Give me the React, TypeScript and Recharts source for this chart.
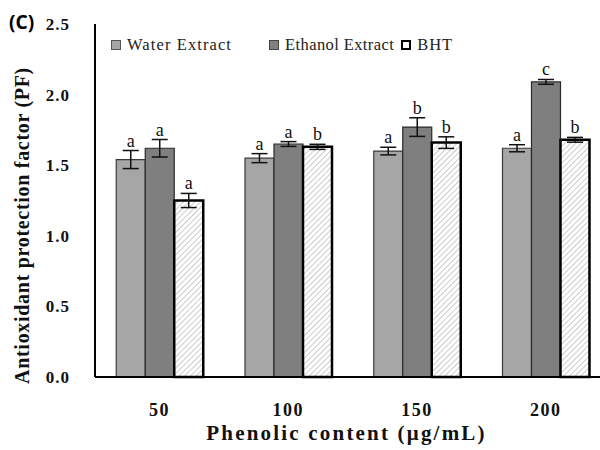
import {
  BarChart,
  Bar,
  XAxis,
  YAxis,
  ErrorBar,
  LabelList,
  Legend,
} from "recharts";

const categories = ["50", "100", "150", "200"];
const water = [1.54, 1.55, 1.6, 1.62];
const waterErr = [0.064, 0.032, 0.027, 0.025];
const ethanol = [1.62, 1.65, 1.77, 2.09];
const ethanolErr = [0.062, 0.017, 0.066, 0.017];
const bht = [1.25, 1.63, 1.66, 1.68];
const bhtErr = [0.05, 0.018, 0.041, 0.017];
const waterLetters = ["a", "a", "a", "a"];
const ethanolLetters = ["a", "a", "b", "c"];
const bhtLetters = ["a", "b", "b", "b"];
const yTicks = [0, 0.5, 1, 1.5, 2, 2.5];
const innerYTicks = [0.5, 1, 1.5, 2];
const groupBounds = [1.5, 2.5, 3.5];

const data = categories.map((c, i) => ({
  name: c,
  idx: i + 1,
  water: water[i],
  waterErr: waterErr[i],
  waterL: waterLetters[i],
  ethanol: ethanol[i],
  ethanolErr: ethanolErr[i],
  ethanolL: ethanolLetters[i],
  bht: bht[i],
  bhtErr: bhtErr[i],
  bhtL: bhtLetters[i],
}));

const SERIF = "'Liberation Serif', 'Times New Roman', 'DejaVu Serif', serif";

const letterLabel = (errs: number[], vals: number[]) => (props: any) => {
  const { x, y, width, height, index, value } = props;
  const errPx = (height * errs[index]) / vals[index];
  return (
    <text
      x={x + width / 2}
      y={y - errPx - 4}
      textAnchor="middle"
      fontFamily={SERIF}
      style={{ fontFamily: SERIF, fontSize: 18 }}
      fill="#111"
    >
      {value}
    </text>
  );
};

const XTick = (p: any) => (
  <text
    x={p.x}
    y={p.y}
    dy={14}
    textAnchor="middle"
    fill="#111"
    fontFamily={SERIF}
    style={{ fontFamily: SERIF, fontWeight: 700, fontSize: 18, letterSpacing: 1.5 }}
  >
    {p.payload.value}
  </text>
);

const YTick = (p: any) => (
  <text
    x={p.x}
    y={p.y}
    dy={6}
    textAnchor="end"
    fill="#111"
    fontFamily={SERIF}
    style={{ fontFamily: SERIF, fontWeight: 700, fontSize: 17, letterSpacing: 1 }}
  >
    {Number(p.payload.value).toFixed(1)}
  </text>
);

const legendItems = [
  { label: "Water Extract", fill: "#a6a6a6", stroke: "#555", sw: 1, gap: 37, ls: 1.1 },
  { label: "Ethanol Extract", fill: "#808080", stroke: "#444", sw: 1, gap: 7, ls: 0.4 },
  { label: "BHT", fill: "#fff", stroke: "#000", sw: 2, gap: 0, ls: 1 },
];

function LegendBox() {
  return (
    <div
      style={{
        display: "flex",
        fontFamily: SERIF,
        fontSize: 16.5,
        color: "#222",
        whiteSpace: "nowrap",
      }}
    >
      {legendItems.map((it) => (
        <div
          key={it.label}
          style={{ display: "flex", alignItems: "center", marginRight: it.gap, letterSpacing: it.ls }}
        >
          <svg width={10} height={10} style={{ marginRight: 6 }}>
            <rect
              x={it.sw / 2}
              y={it.sw / 2}
              width={10 - it.sw}
              height={10 - it.sw}
              fill={it.fill}
              stroke={it.stroke}
              strokeWidth={it.sw}
            />
          </svg>
          <span>{it.label}</span>
        </div>
      ))}
    </div>
  );
}

export default function App() {
  return (
    <div
      style={{
        position: "absolute",
        left: 0,
        top: 0,
        width: 600,
        height: 450,
        overflow: "hidden",
        background: "#fff",
      }}
    >
      <div
        style={{
          position: "absolute",
          left: 9,
          top: 9,
          fontFamily: "'Noto Sans', sans-serif",
          fontWeight: 700,
          fontSize: 19,
        }}
      >
        (C)
      </div>
      <BarChart
        width={620}
        height={450}
        data={data}
        margin={{ top: 24, right: 10, left: 0, bottom: 0 }}
        barGap={0}
        barCategoryGap="16.5%"
      >
        <defs>
          <pattern
            id="hatch"
            patternUnits="userSpaceOnUse"
            width={4}
            height={4}
            patternTransform="rotate(45)"
          >
            <rect width={4} height={4} fill="#fff" />
            <line x1={0} y1={0} x2={0} y2={4} stroke="#b5b5b5" strokeWidth={1.4} />
          </pattern>
        </defs>
        <XAxis
          dataKey="name"
          axisLine={{ stroke: "#000", strokeWidth: 2 }}
          tickLine={false}
          tickMargin={19}
          height={73}
          tick={<XTick />}
          label={{
            content: (p: any) => (
              <text
                x={p.viewBox.x + p.viewBox.width / 2 - 6}
                y={p.viewBox.y + 63}
                textAnchor="middle"
                fill="#111"
                fontFamily={SERIF}
                style={{ fontFamily: SERIF, fontWeight: 700, fontSize: 21, letterSpacing: 2.2 }}
              >
                Phenolic content (μg/mL)
              </text>
            ),
          }}
        />
        {/* inner tick marks between groups */}
        <XAxis
          xAxisId="t"
          type="number"
          dataKey="idx"
          domain={[0.5, 4.5]}
          ticks={groupBounds}
          mirror
          height={0}
          tick={false}
          tickSize={5}
          tickLine={{ stroke: "#000", strokeWidth: 1.5 }}
          axisLine={false}
        />
        {/* top frame line */}
        <XAxis
          xAxisId="top"
          type="number"
          dataKey="idx"
          domain={[0.5, 4.5]}
          orientation="top"
          height={0}
          tick={false}
          tickLine={false}
          axisLine={{ stroke: "#000", strokeWidth: 2 }}
        />
        <YAxis
          width={95}
          domain={[0, 2.5]}
          ticks={yTicks}
          axisLine={{ stroke: "#000", strokeWidth: 2 }}
          tickLine={false}
          tickMargin={19}
          tick={<YTick />}
          label={{
            content: (p: any) => {
              const cx = p.viewBox.x + 22;
              const cy = p.viewBox.y + p.viewBox.height / 2 + 25;
              return (
                <text
                  x={cx}
                  y={cy}
                  transform={`rotate(-90 ${cx} ${cy})`}
                  textAnchor="middle"
                  dominantBaseline="central"
                  fill="#111"
                  fontFamily={SERIF}
                  style={{ fontFamily: SERIF, fontWeight: 700, fontSize: 20, letterSpacing: 0.7 }}
                >
                  Antioxidant protection factor (PF)
                </text>
              );
            },
          }}
        />
        {/* inner tick marks on the value axis */}
        <YAxis
          yAxisId="t"
          domain={[0, 2.5]}
          ticks={innerYTicks}
          mirror
          width={0}
          tick={false}
          tickSize={5}
          tickLine={{ stroke: "#000", strokeWidth: 1.5 }}
          axisLine={false}
        />
        <Legend
          layout="horizontal"
          verticalAlign="middle"
          align="center"
          content={() => <LegendBox />}
          wrapperStyle={{ position: "absolute", top: 35, left: 111, width: "auto" }}
        />
        <Bar dataKey="water" fill="#a6a6a6" stroke="#3a3a3a" strokeWidth={1.2} isAnimationActive={false}>
          <ErrorBar dataKey="waterErr" width={8} stroke="#111" strokeWidth={1.5} />
          <LabelList dataKey="waterL" content={letterLabel(waterErr, water)} />
        </Bar>
        <Bar dataKey="ethanol" fill="#7f7f7f" stroke="#2a2a2a" strokeWidth={1.2} isAnimationActive={false}>
          <ErrorBar dataKey="ethanolErr" width={8} stroke="#111" strokeWidth={1.5} />
          <LabelList dataKey="ethanolL" content={letterLabel(ethanolErr, ethanol)} />
        </Bar>
        <Bar dataKey="bht" fill="url(#hatch)" stroke="#000" strokeWidth={2.5} isAnimationActive={false}>
          <ErrorBar dataKey="bhtErr" width={8} stroke="#111" strokeWidth={1.5} />
          <LabelList dataKey="bhtL" content={letterLabel(bhtErr, bht)} />
        </Bar>
      </BarChart>
    </div>
  );
}
